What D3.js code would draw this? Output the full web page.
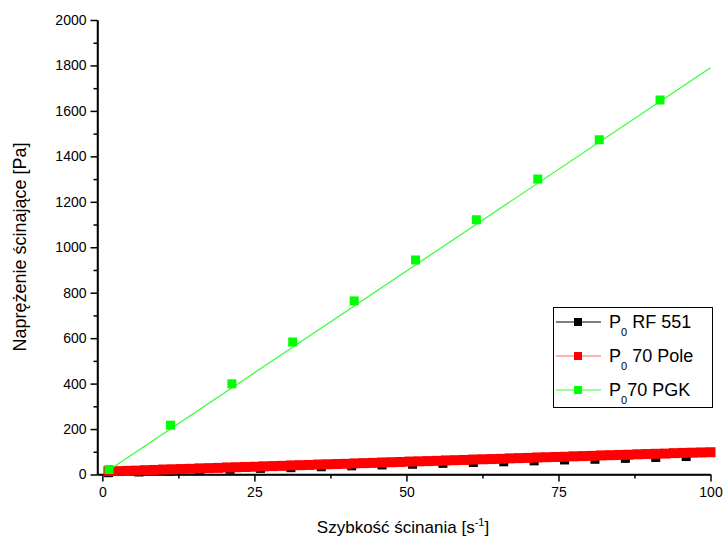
<!DOCTYPE html>
<html lang="pl">
  <head>
    <meta charset="UTF-8" />
    <title>Naprężenie ścinające</title>
    <script src="https://d3js.org/d3.v7.min.js"></script>
    <style>
      body {
        margin: 0;
        background: #fff;
        font-family: "Liberation Sans", Arial, sans-serif;
      }
      .axis text {
        font-family: "Liberation Sans", Arial, sans-serif;
        font-size: 14px;
        fill: #000;
      }
      .axis path,
      .axis line {
        stroke: #000;
        stroke-width: 1.5px;
      }
    </style>
  </head>
  <body>
    <svg id="chart" width="727" height="547"></svg>
    <script>
      // P0 RF 551 (black)
      const rfX = [1, 6, 11, 16, 21, 26, 31, 36, 41, 46, 51, 56, 61, 66, 71, 76, 81, 86, 91, 96];
      const rfY = [8, 11, 15, 19, 23, 27, 30, 34, 38, 42, 45, 49, 53, 56, 60, 64, 67, 71, 75, 79];

      // P0 70 Pole (red)
      const poleX = [1, 2.5, 4, 5.5, 7, 8.5, 10, 11.5, 13, 14.5, 16, 17.5, 19, 20.5, 22, 23.5, 25,
        26.5, 28, 29.5, 31, 32.5, 34, 35.5, 37, 38.5, 40, 41.5, 43, 44.5, 46, 47.5, 49, 50.5, 52,
        53.5, 55, 56.5, 58, 59.5, 61, 62.5, 64, 65.5, 67, 68.5, 70, 71.5, 73, 74.5, 76, 77.5, 79,
        80.5, 82, 83.5, 85, 86.5, 88, 89.5, 91, 92.5, 94, 95.5, 97, 98.5, 100];
      const poleY = [15, 15, 16, 17, 19, 20, 22, 23, 24, 25, 27, 28, 29, 31, 32, 33, 34,
        36, 37, 38, 40, 41, 42, 44, 45, 46, 47, 49, 50, 51, 53, 54, 55, 57, 58,
        59, 60, 62, 63, 64, 66, 67, 68, 69, 71, 72, 73, 75, 76, 77, 78, 80, 81,
        82, 84, 85, 86, 87, 89, 90, 91, 92, 94, 95, 96, 97, 98];
      const poleFit = [[1, 15], [100, 98]];

      // P0 70 PGK (green)
      const pgkX = [1.1, 11.2, 21.3, 31.3, 41.4, 51.5, 61.5, 71.6, 81.7, 91.7];
      const pgkY = [22, 217, 399, 583, 764, 944, 1121, 1300, 1473, 1648];
      const pgkFit = [[1.1, 20], [100, 1790]];

      const xTicks = [0, 25, 50, 75, 100];
      const yTicks = [0, 200, 400, 600, 800, 1000, 1200, 1400, 1600, 1800, 2000];

      const svg = d3.select("#chart");
      const x = d3.scaleLinear().domain([-0.8, 100]).range([97.5, 710.5]);
      const y = d3.scaleLinear().domain([0, 2000]).range([474.5, 20]);

      // minor ticks
      const xMinor = d3.range(0, 101, 12.5).filter((v) => !xTicks.includes(v));
      const yMinor = d3.range(100, 2000, 200);

      svg.append("g")
        .attr("class", "axis")
        .attr("transform", "translate(0,474.5)")
        .call(d3.axisBottom(x).tickValues(xMinor).tickSize(4).tickFormat("").tickSizeOuter(0));
      svg.append("g")
        .attr("class", "axis")
        .attr("transform", "translate(97.5,0)")
        .call(d3.axisLeft(y).tickValues(yMinor).tickSize(4).tickFormat("").tickSizeOuter(0));

      const xAxis = svg.append("g")
        .attr("class", "axis")
        .attr("transform", "translate(0,474.5)")
        .call(d3.axisBottom(x).tickValues(xTicks).tickFormat(d3.format("d"))
          .tickSize(7).tickPadding(6).tickSizeOuter(0));
      const yAxis = svg.append("g")
        .attr("class", "axis")
        .attr("transform", "translate(97.5,0)")
        .call(d3.axisLeft(y).tickValues(yTicks).tickFormat(d3.format("d"))
          .tickSize(7).tickPadding(4).tickSizeOuter(0));
      xAxis.select(".domain").attr("d", `M${x.range()[0]},0H${x.range()[1]}`);
      yAxis.select(".domain").attr("d", `M0,${y(0) + 0.5}V${y(2000)}`);

      const line = d3.line().x((d) => x(d[0])).y((d) => y(d[1]));

      function drawSeries(xs, ys, fit, color, lineColor, ms) {
        const pts = xs.map((v, i) => [v, ys[i]]);
        svg.append("path")
          .datum(fit || pts)
          .attr("fill", "none")
          .attr("stroke", lineColor)
          .attr("stroke-width", 1.2)
          .attr("d", line);
        svg.append("g")
          .selectAll("rect")
          .data(pts)
          .join("rect")
          .attr("x", (d) => x(d[0]) - ms / 2)
          .attr("y", (d) => y(d[1]) - ms / 2)
          .attr("width", ms)
          .attr("height", ms)
          .attr("fill", color);
      }

      drawSeries(rfX, rfY, null, "#000", "#000", 9);
      drawSeries(poleX, poleY, poleFit, "#ff0000", "#ff6a6a", 10);
      drawSeries(pgkX, pgkY, pgkFit, "#00ff00", "#33ff33", 9);

      // axis titles
      svg.append("text")
        .attr("transform", "translate(26,247) rotate(-90)")
        .attr("text-anchor", "middle")
        .attr("font-size", 18)
        .text("Naprężenie ścinające [Pa]");

      const xt = svg.append("text")
        .attr("x", 403)
        .attr("y", 533)
        .attr("text-anchor", "middle")
        .attr("font-size", 17);
      xt.append("tspan").text("Szybkość ścinania [s");
      xt.append("tspan").attr("font-size", 11).attr("dy", -7).text("-1");
      xt.append("tspan").attr("dy", 7).text("]");

      // legend
      const legend = [
        { sub: "0", rest: " RF 551", color: "#000", line: "#000" },
        { sub: "0", rest: " 70 Pole", color: "#ff0000", line: "#ff6a6a" },
        { sub: "0", rest: "70 PGK", color: "#00ff00", line: "#33ff33" },
      ];
      const lg = svg.append("g");
      lg.append("rect")
        .attr("x", 553.5)
        .attr("y", 307.5)
        .attr("width", 159)
        .attr("height", 100)
        .attr("fill", "#fff")
        .attr("stroke", "#000")
        .attr("stroke-width", 1);
      legend.forEach((d, i) => {
        const cy = 322 + i * 34;
        lg.append("line")
          .attr("x1", 556).attr("x2", 601)
          .attr("y1", cy).attr("y2", cy)
          .attr("stroke", d.line).attr("stroke-width", 1.2);
        lg.append("rect")
          .attr("x", 578 - 4).attr("y", cy - 4)
          .attr("width", 8).attr("height", 8)
          .attr("fill", d.color);
        const t = lg.append("text")
          .attr("x", 609)
          .attr("y", cy + 6)
          .attr("font-size", 18);
        t.append("tspan").text("P");
        t.append("tspan").attr("font-size", 11).attr("dy", 8).text(d.sub);
        t.append("tspan").attr("dy", -8).text(d.rest);
      });
    </script>
  </body>
</html>
